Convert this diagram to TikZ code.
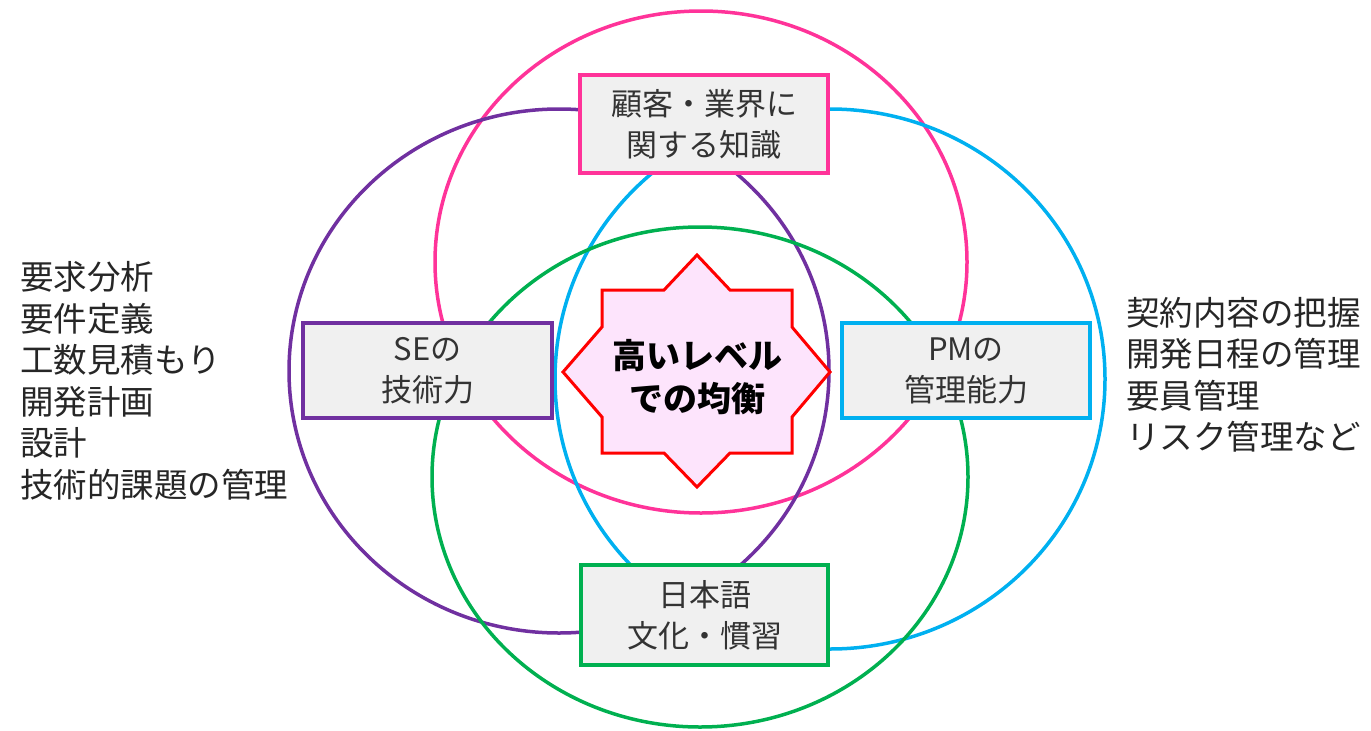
\documentclass[tikz,border=0pt]{standalone}
\usepackage{fontspec}
\setmainfont{Noto Sans CJK JP}
\definecolor{cpink}{HTML}{FF3399}
\definecolor{cpurple}{HTML}{7030A0}
\definecolor{cblue}{HTML}{00B0F0}
\definecolor{cgreen}{HTML}{00B050}
\definecolor{cred}{HTML}{FF0000}
\definecolor{cstarfill}{HTML}{FDE4FC}
\definecolor{cboxfill}{HTML}{F0F0F0}
\begin{document}
\begin{tikzpicture}[x=1pt,y=-1pt,
  ring/.style={line width=3.5pt},
  infobox/.style={draw, line width=4pt, fill=cboxfill, rectangle, inner sep=0pt,
    align=center, text=black!80, font=\fontsize{31}{41}\selectfont},
  listtxt/.style={inner sep=0pt, align=left, anchor=west, text=black!85,
    font=\fontsize{33.5}{41.5}\selectfont}]
\useasboundingbox (0,0) rectangle (1371,731);
% rings
\draw[ring, cpink]   (701,262) ellipse [x radius=266pt, y radius=251pt];
\draw[ring, cpurple] (559,371) ellipse [x radius=270pt, y radius=262pt];
\draw[ring, cblue]   (830,379) ellipse [x radius=275pt, y radius=270pt];
\draw[ring, cgreen]  (700,477) ellipse [x radius=268pt, y radius=250pt];
% boxes
\node[infobox, draw=cpink, minimum width=248pt, minimum height=98pt] (knowledge) at (704,124) {顧客・業界に\\関する知識};
\node[infobox, draw=cpurple, minimum width=249pt, minimum height=95pt] (se) at (427.5,370.5) {SEの\\技術力};
\node[infobox, draw=cblue, minimum width=248pt, minimum height=95pt] (pm) at (966,370.5) {PMの\\管理能力};
\node[infobox, draw=cgreen, minimum width=247pt, minimum height=100pt] (jp) at (704.5,615) {日本語\\文化・慣習};
% star
\draw[line width=3pt, draw=cred, fill=cstarfill, line join=miter]
  (697,255) -- (730,290) -- (792,290) -- (792,327) -- (830,372) -- (792,417) -- (792,453)
  -- (730,453) -- (697,487) -- (664,453) -- (602,453) -- (602,417) -- (563,372)
  -- (602,327) -- (602,290) -- (664,290) -- cycle;
\node[align=center, inner sep=0pt, font=\fontsize{34}{43}\selectfont\bfseries] (balance) at (697,377) {高いレベル\\での均衡};
% lists
\node[listtxt] (selist) at (20,381) {要求分析\\要件定義\\工数見積もり\\開発計画\\設計\\技術的課題の管理};
\node[listtxt] (pmlist) at (1126,375) {契約内容の把握\\開発日程の管理\\要員管理\\リスク管理など};
\end{tikzpicture}
\end{document}
